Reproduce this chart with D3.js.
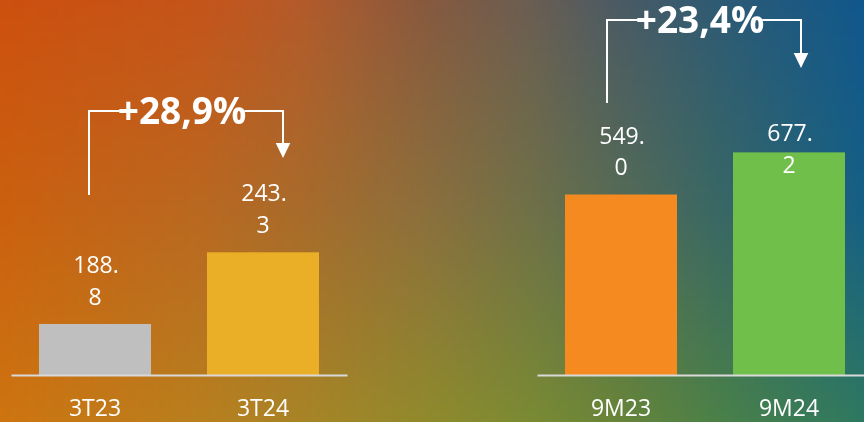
<!DOCTYPE html>
<html>
<head>
<meta charset="utf-8">
<script src="https://cdn.jsdelivr.net/npm/d3@7"></script>
<style>
  html, body { margin: 0; padding: 0; width: 864px; height: 422px; overflow: hidden; }
  #wrap { position: relative; width: 864px; height: 422px; }
  canvas, svg { position: absolute; left: 0; top: 0; }
  text { font-family: "Open Sans", "Noto Sans", sans-serif; fill: #ffffff; }
</style>
</head>
<body>
<div id="wrap">
  <canvas id="bg" width="864" height="422"></canvas>
  <svg id="chart" width="864" height="422"></svg>
</div>
<script>
// ---- data ----
const leftCategories = ["3T23", "3T24"];
const leftValues = [188.8, 243.3];
const rightCategories = ["9M23", "9M24"];
const rightValues = [549.0, 677.2];
const leftColors = ["#BFBFBF", "#EAAF26"];
const rightColors = ["#F58B20", "#70BF4B"];
const leftDomain = [150, 350];
const rightDomain = [0, 800];

// ---- background (mesh-like gradient) ----
const bgXs = [0, 200, 300, 430, 530, 620, 720, 864];
const bgYs = [0, 210, 422];
const bgRows = [
  ["#CC500E", "#C4541A", "#B35A2A", "#85593F", "#6A5D52", "#4A5A64", "#2D5A74", "#10578C"],
  ["#CB600F", "#B96820", "#A86B2A", "#8A6F3D", "#6F7047", "#556B55", "#386764", "#155F85"],
  ["#CD7410", "#B87F1E", "#A88426", "#8F8A2C", "#7A8A33", "#668439", "#4A8048", "#2E7860"]
];
(function drawBg() {
  const W = 864, H = 422;
  const ctx = document.getElementById("bg").getContext("2d");
  const img = ctx.createImageData(W, H);
  const rowScales = bgRows.map(r => d3.scaleLinear().domain(bgXs).range(r.map(c => d3.rgb(c))).interpolate(d3.interpolateRgb).clamp(true));
  for (let x = 0; x < W; x++) {
    const cols = rowScales.map(s => s(x));
    const ys = d3.scaleLinear().domain(bgYs).range(cols).interpolate(d3.interpolateRgb).clamp(true);
    for (let y = 0; y < H; y++) {
      const c = d3.rgb(ys(y));
      const i = (y * W + x) * 4;
      img.data[i] = c.r; img.data[i + 1] = c.g; img.data[i + 2] = c.b; img.data[i + 3] = 255;
    }
  }
  ctx.putImageData(img, 0, 0);
})();

// ---- chart ----
const svg = d3.select("#chart");
const baseY = 375, topY = 112;

const panels = [
  { cats: leftCategories, vals: leftValues, colors: leftColors, domain: leftDomain,
    range: [11, 347], labelMinBaseline: 0,
    arrow: { startDx: -6, startBottom: 195, lineY: 111, endDx: 20, headTip: 158 } },
  { cats: rightCategories, vals: rightValues, colors: rightColors, domain: rightDomain,
    range: [537, 873], labelMinBaseline: 173,
    arrow: { startDx: -14, startBottom: 103, lineY: 20, endDx: 12, headTip: 68 } }
];

const fmtPct = v => "+" + d3.format(".1f")(v).replace(".", ",") + "%";

panels.forEach(p => {
  const x = d3.scaleBand().domain(p.cats).range(p.range).paddingInner(1 / 3).paddingOuter(1 / 6);
  const y = d3.scaleLinear().domain(p.domain).range([baseY, topY]);
  const g = svg.append("g");

  // bars
  g.selectAll("rect.bar").data(p.vals).join("rect")
    .attr("class", "bar")
    .attr("x", (d, i) => x(p.cats[i]))
    .attr("width", x.bandwidth())
    .attr("y", d => y(d))
    .attr("height", d => baseY - y(d))
    .attr("fill", (d, i) => p.colors[i]);

  // axis line
  const axis = g.append("g").attr("transform", `translate(0,${baseY})`)
    .call(d3.axisBottom(x).tickSize(0).tickPadding(0).tickFormat(""));
  axis.select(".domain").attr("stroke", "#D9D9D9").attr("stroke-width", 2);

  // category labels
  g.selectAll("text.cat").data(p.cats).join("text")
    .attr("class", "cat")
    .attr("x", d => x(d) + x.bandwidth() / 2)
    .attr("y", 415.5)
    .attr("text-anchor", "middle")
    .attr("font-size", 23)
    .text(d => d);

  // value labels (wrapped after the decimal point)
  p.vals.forEach((v, i) => {
    const s = d3.format(".1f")(v);
    const parts = [s.slice(0, s.indexOf(".") + 1), s.slice(s.indexOf(".") + 1)];
    const b2 = Math.max(y(v) - 19.3, p.labelMinBaseline);
    const cx = x(p.cats[i]) + x.bandwidth() / 2;
    g.append("text").attr("x", cx + 1).attr("y", b2 - 31.7)
      .attr("text-anchor", "middle").attr("font-size", 23).text(parts[0]);
    g.append("text").attr("x", cx).attr("y", b2)
      .attr("text-anchor", "middle").attr("font-size", 23).text(parts[1]);
  });

  // growth arrow annotation
  const a = p.arrow;
  const x0 = x(p.cats[0]) + x.bandwidth() / 2 + a.startDx;
  const x1 = x(p.cats[1]) + x.bandwidth() / 2 + a.endDx;
  const pct = (p.vals[1] / p.vals[0] - 1) * 100;
  const midX = (x0 + x1) / 2 - 4;
  const label = g.append("text")
    .attr("x", midX).attr("y", a.lineY + 12.8)
    .attr("text-anchor", "middle").attr("font-size", 37).attr("font-weight", 700)
    .text(fmtPct(pct));
  const bb = label.node().getBBox();
  g.append("path")
    .attr("d", `M${x0},${a.startBottom}V${a.lineY}H${bb.x + 2}`)
    .attr("fill", "none").attr("stroke", "#fff").attr("stroke-width", 2);
  g.append("path")
    .attr("d", `M${bb.x + bb.width - 2},${a.lineY}H${x1}V${a.headTip - 14}`)
    .attr("fill", "none").attr("stroke", "#fff").attr("stroke-width", 2);
  g.append("path")
    .attr("d", `M${x1 - 7.3},${a.headTip - 15}L${x1 + 7.3},${a.headTip - 15}L${x1},${a.headTip}Z`)
    .attr("fill", "#fff");
});
</script>
</body>
</html>
